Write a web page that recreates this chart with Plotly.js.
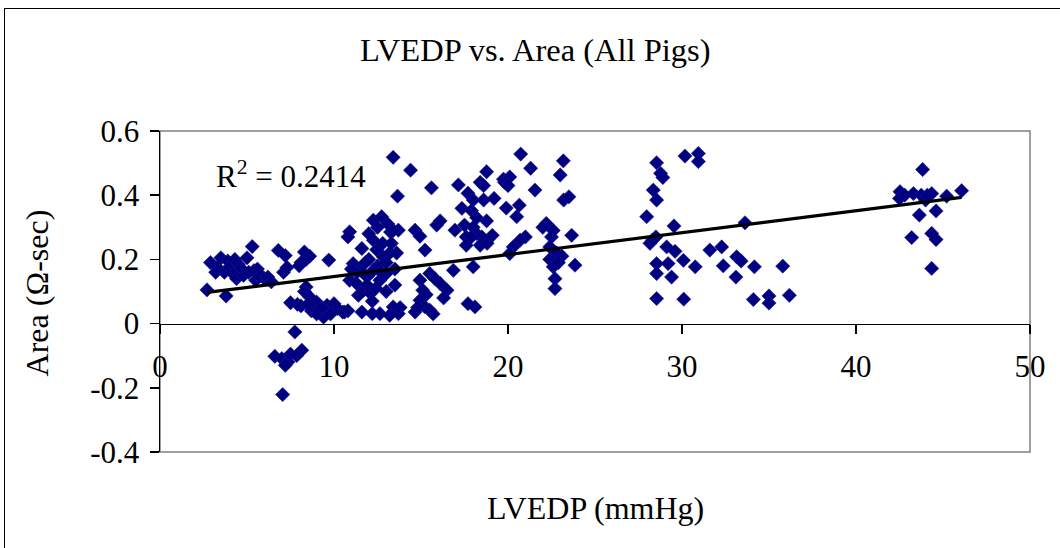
<!DOCTYPE html>
<html>
<head>
<meta charset="utf-8">
<script src="https://cdn.plot.ly/plotly-3.0.1.min.js"></script>
<style>
html,body{margin:0;padding:0;background:#fff;}
#wrap{position:relative;width:1060px;height:548px;}
#chart{width:1060px;height:548px;}
#frame{position:absolute;left:4px;top:8px;width:1070px;height:560px;border-top:1px solid #000;border-left:1px solid #000;pointer-events:none;}
</style>
</head>
<body>
<div id="wrap"><div id="chart"></div><div id="frame"></div></div>
<script>
// LVEDP (mmHg) values
const lvedp = [
  2.7,3.8,2.9,3.3,3.5,3.7,3.9,4.0,4.2,4.4,4.5,4.7,4.8,5.0,5.1,5.3,5.4,5.6,5.8,6.0,6.2,5.5,4.3,3.2,6.4,
  6.8,7.2,7.1,7.3,8.3,8.6,8.1,8.0,9.7,8.4,
  7.5,7.9,8.4,8.3,8.6,8.1,8.8,9.2,9.4,9.6,10.0,10.2,10.5,9.0,8.7,9.8,9.0,8.5,9.3,10.8,
  7.75,6.6,7.0,7.35,7.5,8.15,7.85,7.05,7.2,
  10.9,10.8,12.26,12.74,13.1,13.7,13.25,11.6,12.26,12.45,12.83,13.2,11.1,11.5,10.9,11.3,11.9,12.26,12.64,13.0,
  11.7,12.1,11.4,10.6,11.6,12.2,12.64,13.4,13.7,13.2,
  12.0,12.5,13.0,13.5,12.8,13.3,11.9,12.4,13.0,13.5,12.0,12.5,11.3,11.8,13.6,12.2,13.8,13.4,11.0,12.7,
  13.4,14.4,13.65,15.6,
  14.66,14.94,15.23,15.9,16.1,14.94,15.5,16.1,16.5,15.1,14.94,15.23,14.66,15.5,15.3,15.8,16.3,14.8,15.7,
  16.86,18.0,17.7,18.1,17.15,18.77,19.74,18.4,17.7,18.0,18.6,19.2,17.35,17.9,18.77,16.95,17.5,18.0,18.2,17.6,
  18.5,19.1,17.6,18.4,18.8,18.6,18.2,17.9,
  20.73,21.3,23.18,23.0,20.1,19.8,20.0,21.55,23.2,23.5,19.9,20.65,20.5,22.2,22.6,22.0,23.66,21.0,20.7,20.3,
  20.1,22.4,22.8,22.4,23.1,22.6,23.85,22.7,22.7,22.9,22.5,
  28.54,28.77,28.9,28.35,28.54,27.97,29.54,28.5,28.16,29.12,29.6,28.54,29.2,28.54,29.4,30.08,30.76,28.54,30.1,
  30.17,30.94,30.94,33.62,31.6,32.28,32.37,33.14,33.4,33.1,34.16,35.79,34.1,35.0,35.0,36.17,28.3,
  43.83,42.53,42.5,43.3,43.75,44.35,44.0,45.21,46.07,43.64,44.6,43.2,44.35,44.6,44.35,44.1,42.8
];
// Area (Ω-sec) values
const area = [
  0.105,0.086,0.19,0.175,0.205,0.16,0.195,0.175,0.155,0.14,0.185,0.17,0.15,0.205,0.16,0.24,0.165,0.17,0.15,0.14,0.145,0.135,0.2,0.16,0.13,
  0.228,0.212,0.16,0.175,0.223,0.21,0.19,0.18,0.198,0.2,
  0.065,0.06,0.114,0.1,0.083,0.055,0.047,0.036,0.02,0.057,0.062,0.047,0.036,0.067,0.04,0.03,0.03,0.06,0.05,0.04,
  -0.026,-0.102,-0.109,-0.12,-0.095,-0.083,-0.1,-0.221,-0.13,
  0.286,0.27,0.322,0.333,0.31,0.291,0.285,0.234,0.26,0.23,0.208,0.22,0.187,0.166,0.135,0.125,0.146,0.166,0.135,0.156,
  0.104,0.094,0.088,0.036,0.036,0.031,0.031,0.052,0.031,0.026,
  0.2,0.18,0.19,0.17,0.25,0.25,0.12,0.11,0.1,0.12,0.28,0.3,0.16,0.19,0.22,0.07,0.05,0.29,0.17,0.16,
  0.518,0.478,0.397,0.423,
  0.291,0.272,0.229,0.307,0.32,0.135,0.156,0.125,0.104,0.104,0.073,0.052,0.036,0.042,0.09,0.14,0.08,0.05,0.03,
  0.166,0.177,0.062,0.052,0.432,0.473,0.45,0.44,0.406,0.385,0.385,0.39,0.359,0.352,0.32,0.291,0.307,0.3,0.28,0.27,
  0.27,0.275,0.244,0.244,0.25,0.43,0.33,0.27,
  0.528,0.484,0.507,0.463,0.457,0.44,0.43,0.416,0.385,0.395,0.36,0.369,0.333,0.312,0.29,0.3,0.275,0.27,0.26,0.239,
  0.218,0.239,0.22,0.2,0.21,0.177,0.182,0.14,0.109,0.19,0.27,
  0.501,0.468,0.455,0.416,0.385,0.333,0.304,0.27,0.25,0.239,0.225,0.187,0.187,0.156,0.145,0.197,0.177,0.078,0.076,
  0.522,0.53,0.505,0.314,0.229,0.239,0.18,0.208,0.195,0.145,0.177,0.179,0.075,0.086,0.064,0.088,0.26,
  0.48,0.411,0.39,0.405,0.4,0.405,0.385,0.397,0.414,0.338,0.351,0.268,0.281,0.262,0.172,0.4,0.4
];
// Linear trend line end points
const trendX = [2.7, 46.07];
const trendY = [0.097, 0.393];
const r2Text = "R<sup>2</sup> = 0.2414";

const xTicks = [0, 10, 20, 30, 40, 50];
const yTicks = [-0.4, -0.2, 0, 0.2, 0.4, 0.6];
const yTickText = ["-0.4", "-0.2", "0", "0.2", "0.4", "0.6"];

const serif = "'Liberation Serif', 'Times New Roman', serif";

const traces = [
  {
    x: lvedp, y: area, type: 'scatter', mode: 'markers',
    marker: {symbol: 'diamond', size: 11, color: '#000080', line: {width: 0.5, color: '#1a1a90'}},
    hoverinfo: 'skip', showlegend: false
  },
  {
    x: trendX, y: trendY, type: 'scatter', mode: 'lines',
    line: {color: '#000000', width: 3.2}, hoverinfo: 'skip', showlegend: false
  }
];

const layout = {
  width: 1060, height: 548, autosize: false,
  paper_bgcolor: '#ffffff', plot_bgcolor: '#ffffff',
  margin: {l: 160, r: 30, t: 131, b: 96, pad: 0},
  font: {family: serif, color: '#000', size: 31},
  title: {text: 'LVEDP vs. Area (All Pigs)', font: {family: serif, size: 32.5, color: '#000'},
          x: 0.505, xref: 'container', xanchor: 'center', y: 0.91, yref: 'container', yanchor: 'middle'},
  xaxis: {
    range: [0, 50], tickvals: xTicks, ticktext: xTicks.map(String),
    anchor: 'free', position: 0.4,
    showline: true, linecolor: '#000', linewidth: 1.5,
    ticks: 'outside', ticklen: 9, tickcolor: '#000', tickwidth: 1.5,
    ticklabelstandoff: 6,
    showgrid: false, zeroline: false,
    tickfont: {family: serif, size: 31, color: '#000'}
  },
  yaxis: {
    range: [-0.4, 0.6], tickvals: yTicks, ticktext: yTickText,
    showline: true, linecolor: '#000', linewidth: 1.5,
    ticks: 'outside', ticklen: 9, tickcolor: '#000', tickwidth: 1.5,
    ticklabelstandoff: 4,
    showgrid: false, zeroline: false,
    tickfont: {family: serif, size: 31, color: '#000'}
  },
  shapes: [
    {type: 'rect', xref: 'paper', yref: 'paper', x0: 0, x1: 1, y0: 0, y1: 1,
     line: {color: '#808080', width: 1.5}, layer: 'below'}
  ],
  annotations: [
    {text: r2Text, xref: 'x', yref: 'y', x: 3.1, y: 0.463, xanchor: 'left', yanchor: 'middle',
     showarrow: false, font: {family: serif, size: 31, color: '#000'}},
    {text: 'LVEDP (mmHg)', xref: 'paper', yref: 'paper', x: 0.5, y: -0.174, xanchor: 'center', yanchor: 'middle',
     showarrow: false, font: {family: serif, size: 32, color: '#000'}},
    {text: 'Area (Ω-sec)', xref: 'paper', yref: 'paper', x: -0.141, y: 0.495, xanchor: 'center', yanchor: 'middle',
     textangle: -90, showarrow: false, font: {family: serif, size: 32, color: '#000'}}
  ]
};

Plotly.newPlot('chart', traces, layout, {staticPlot: true, displayModeBar: false});
</script>
</body>
</html>
